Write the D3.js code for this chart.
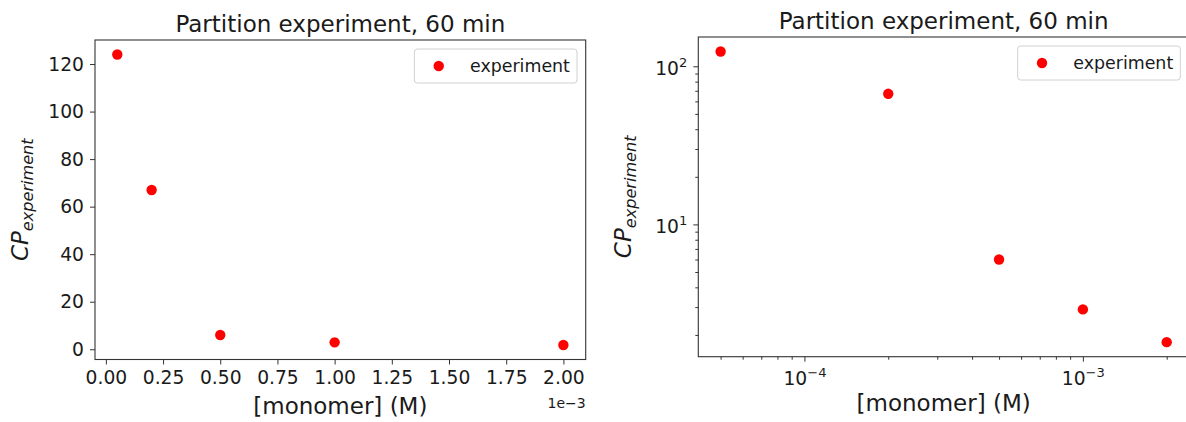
<!DOCTYPE html>
<html>
<head>
<meta charset="utf-8">
<script src="https://cdn.jsdelivr.net/npm/d3@7"></script>
<style>
  body { margin: 0; background: #fff; }
  svg text { font-family: "DejaVu Sans", sans-serif; fill: #1a1a1a; }
</style>
</head>
<body>
<svg id="fig" width="1186" height="422"></svg>
<script>
// Monomer concentration (M) and measured CP after 60 min
const concentration = [5e-5, 2e-4, 5e-4, 1e-3, 2e-3];
const cpExperiment = [124, 67, 6.0, 2.9, 1.8];

const seriesName = "experiment";
const titleText = "Partition experiment, 60 min";
const xLabelText = "[monomer] (M)";

// Linear panel ticks (x shown in units of 1e-3 M)
const linearXTicks = [0, 0.25e-3, 0.5e-3, 0.75e-3, 1.0e-3, 1.25e-3, 1.5e-3, 1.75e-3, 2.0e-3];
const linearYTicks = [0, 20, 40, 60, 80, 100, 120];
const offsetText = "1e\u22123";

// Log panel ticks
const logXMajor = [1e-4, 1e-3];
const logYMajor = [10, 100];
const minorMultipliers = [2, 3, 4, 5, 6, 7, 8, 9];

const TICK_FONT = 18.7, LABEL_FONT = 23, TITLE_FONT = 23, LEGEND_FONT = 17.4;
const svg = d3.select("#fig");

function padLinear(vals) {
  const [lo, hi] = d3.extent(vals);
  const m = (hi - lo) * 0.05;
  return [lo - m, hi + m];
}
function padLog(vals) {
  const [lo, hi] = d3.extent(vals).map(Math.log10);
  const m = (hi - lo) * 0.05;
  return [Math.pow(10, lo - m), Math.pow(10, hi + m)];
}
function minorTicks(domain) {
  const out = [];
  const e0 = Math.floor(Math.log10(domain[0])), e1 = Math.ceil(Math.log10(domain[1]));
  for (let e = e0; e <= e1; e++) {
    minorMultipliers.forEach(k => {
      const v = k * Math.pow(10, e);
      if (v >= domain[0] && v <= domain[1]) out.push(v);
    });
  }
  return out;
}
function powerLabel(sel, exps) {
  sel.selectAll(".tick text").each(function(d) {
    const t = d3.select(this);
    const e = Math.round(Math.log10(d));
    t.text(null);
    t.append("tspan").text("10");
    t.append("tspan").attr("font-size", "0.7em").attr("dy", "-0.62em")
      .text(e < 0 ? "\u2212" + (-e) : String(e));
  });
}
function styleAxis(g) {
  g.select(".domain").remove();
  g.selectAll(".tick line").attr("stroke", "#333").attr("stroke-width", 1);
  g.selectAll(".tick text").attr("fill", "#1a1a1a").attr("font-size", TICK_FONT)
    .attr("font-family", '"DejaVu Sans", sans-serif');
}

const panels = [
  { kind: "linear", box: { left: 95, right: 585.7, top: 40, bottom: 359.5 } },
  { kind: "log", box: { left: 698.3, right: 1189, top: 37, bottom: 356.7 } }
];

panels.forEach(p => {
  const b = p.box;
  const g = svg.append("g");
  let x, y;
  if (p.kind === "linear") {
    x = d3.scaleLinear().domain(padLinear(concentration)).range([b.left, b.right]);
    y = d3.scaleLinear().domain(padLinear(cpExperiment)).range([b.bottom, b.top]);
  } else {
    x = d3.scaleLog().domain(padLog(concentration)).range([b.left, b.right]);
    y = d3.scaleLog().domain(padLog(cpExperiment)).range([b.bottom, b.top]);
  }

  // axes
  const gx = g.append("g").attr("transform", `translate(0,${b.bottom})`);
  const gy = g.append("g").attr("transform", `translate(${b.left},0)`);
  if (p.kind === "linear") {
    gx.call(d3.axisBottom(x).tickValues(linearXTicks).tickSize(5).tickPadding(6)
      .tickFormat(v => d3.format(".2f")(v / 1e-3)));
    gy.call(d3.axisLeft(y).tickValues(linearYTicks).tickSize(5).tickPadding(6)
      .tickFormat(d3.format("d")));
    styleAxis(gx); styleAxis(gy);
    g.append("text").attr("x", b.right).attr("y", b.bottom + 48)
      .attr("text-anchor", "end").attr("font-size", 14).text(offsetText);
  } else {
    gx.call(d3.axisBottom(x).tickValues(minorTicks(x.domain())).tickSize(3).tickFormat(""));
    styleAxis(gx);
    const gxM = g.append("g").attr("transform", `translate(0,${b.bottom})`);
    gxM.call(d3.axisBottom(x).tickValues(logXMajor).tickSize(5).tickPadding(10));
    styleAxis(gxM); powerLabel(gxM);
    gy.call(d3.axisLeft(y).tickValues(minorTicks(y.domain())).tickSize(3).tickFormat(""));
    styleAxis(gy);
    const gyM = g.append("g").attr("transform", `translate(${b.left},0)`);
    gyM.call(d3.axisLeft(y).tickValues(logYMajor).tickSize(5).tickPadding(6));
    styleAxis(gyM); powerLabel(gyM);
    gyM.selectAll(".tick text").attr("dy", "0.45em");
  }

  // frame
  g.append("rect").attr("x", b.left).attr("y", b.top)
    .attr("width", b.right - b.left).attr("height", b.bottom - b.top)
    .attr("fill", "none").attr("stroke", "#333").attr("stroke-width", 1.1);

  // points
  g.append("g").selectAll("circle")
    .data(concentration.map((c, i) => ({ c, v: cpExperiment[i] })))
    .join("circle")
    .attr("cx", d => x(d.c)).attr("cy", d => y(d.v)).attr("r", 5.2)
    .attr("fill", "#ff0000");

  // title
  g.append("text").attr("x", (b.left + b.right) / 2).attr("y", b.top - 8)
    .attr("text-anchor", "middle").attr("font-size", TITLE_FONT).text(titleText);

  // x label
  g.append("text").attr("x", (b.left + b.right) / 2).attr("y", b.bottom + 54)
    .attr("text-anchor", "middle").attr("font-size", LABEL_FONT).text(xLabelText);

  // y label (math-style italic with subscript)
  const yl = g.append("text")
    .attr("transform", `translate(${b.left - 67},${(b.top + b.bottom) / 2}) rotate(-90)`)
    .attr("text-anchor", "middle").attr("font-size", LABEL_FONT).attr("font-style", "italic");
  yl.append("tspan").text("CP");
  yl.append("tspan").attr("font-size", "0.7em").attr("dy", "0.3em").text(seriesName);

  // legend
  const fs = LEGEND_FONT;
  const textW = 100;
  const lw = fs * 3.6 + textW, lh = 34;
  const lx = b.right - 8.7 - lw, ly = b.top + 9;
  const lg = g.append("g");
  lg.append("rect").attr("x", lx).attr("y", ly).attr("width", lw).attr("height", lh)
    .attr("rx", 3).attr("fill", "#fff").attr("fill-opacity", 0.8)
    .attr("stroke", "#d0d0d0").attr("stroke-width", 1);
  lg.append("circle").attr("cx", lx + fs * 1.4).attr("cy", ly + lh / 2).attr("r", 5.2)
    .attr("fill", "#ff0000");
  lg.append("text").attr("x", lx + fs * 3.2).attr("y", ly + lh / 2 + fs * 0.36)
    .attr("font-size", fs).text(seriesName);
});
</script>
</body>
</html>
